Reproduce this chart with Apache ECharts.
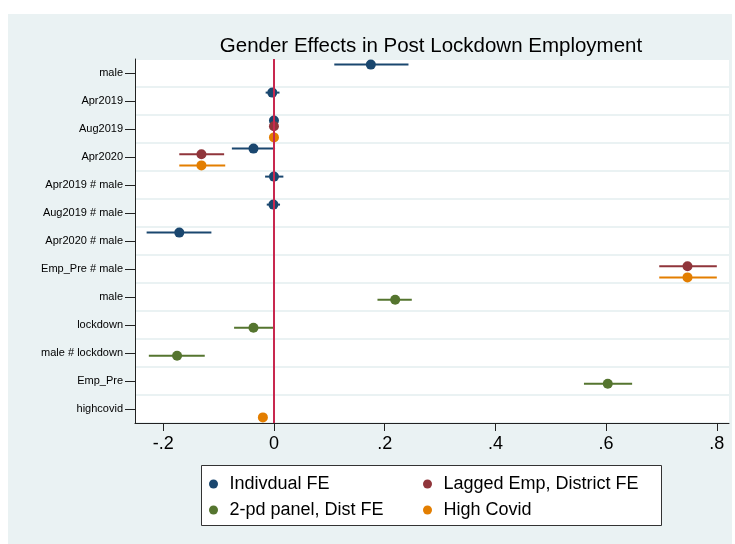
<!DOCTYPE html>
<html><head><meta charset="utf-8">
<script src="https://cdn.jsdelivr.net/npm/echarts@6/dist/echarts.min.js"></script>
<style>html,body{margin:0;padding:0;background:#fff}#c{width:735px;height:544px}</style>
</head><body><div id="c"></div>
<script>
// Categories (top to bottom)
const categories = ['male','Apr2019','Aug2019','Apr2020','Apr2019 # male','Aug2019 # male','Apr2020 # male','Emp_Pre # male','male','lockdown','male # lockdown','Emp_Pre','highcovid'];
const seriesNames = ['Indivdual FE','Lagged Emp, District FE','2-pd panel, Dist FE','High Covid'];
// rows: [categoryIndex, estimate, ciLow, ciHigh]
const indivFE   = [[0,0.175,0.109,0.243],[1,-0.003,-0.015,0.010],[2,0.000,-0.003,0.003],[3,-0.037,-0.076,0.002],[4,0.000,-0.016,0.017],[5,-0.001,-0.013,0.011],[6,-0.171,-0.230,-0.113]];
const laggedEmp = [[2,0.000,-0.002,0.002],[3,-0.131,-0.171,-0.090],[7,0.747,0.696,0.800]];
const panel2pd  = [[8,0.219,0.187,0.249],[9,-0.037,-0.072,-0.001],[10,-0.175,-0.226,-0.125],[11,0.603,0.560,0.647]];
const highCovid = [[2,0.000,-0.002,0.002],[3,-0.131,-0.171,-0.088],[7,0.747,0.696,0.800],[12,-0.020,-0.022,-0.018]];
const xTickValues = [-0.2,0,0.2,0.4,0.6,0.8];
const xTickLabels = ['-.2','0','.2','.4','.6','.8'];

const FONT = "'Liberation Sans', Arial, Helvetica, sans-serif";
const colors = ['#1a476f','#90353b','#55752f','#e37e00'];
const offsets = [-0.3,-0.1,0.1,0.3];
const models = [indivFE, laggedEmp, panel2pd, highCovid];

const series = [];
models.forEach((rows, k) => {
  const ci = rows.map(r => [r[2], r[3], r[0] + offsets[k]]);
  const pts = rows.map(r => [r[1], r[0] + offsets[k]]);
  const ciSeries = {
    type: 'custom', name: seriesNames[k] + ' CI', xAxisIndex: 0, yAxisIndex: 1,
    data: ci, encode: {x: [0, 1], y: 2}, z: 2, silent: true,
    renderItem: (params, api) => {
      const a = api.coord([api.value(0), api.value(2)]);
      const b = api.coord([api.value(1), api.value(2)]);
      return {type: 'line', shape: {x1: a[0], y1: a[1], x2: b[0], y2: b[1]},
        style: {stroke: colors[k], lineWidth: 2}};
    }
  };
  if (k === 0) {
    ciSeries.markLine = {
      silent: true, symbol: ['none','none'], label: {show: false},
      lineStyle: {color: '#c8284f', width: 2, type: 'solid'},
      data: [{xAxis: 0}], animation: false
    };
  }
  series.push(ciSeries);
  series.push({
    type: 'scatter', name: seriesNames[k], xAxisIndex: 0, yAxisIndex: 1,
    data: pts, symbol: 'circle', symbolSize: 10, z: 3,
    itemStyle: {color: colors[k], opacity: 1}, emphasis: {disabled: true}, silent: true
  });
});

const legendCommon = {
  orient: 'vertical', top: 474, itemWidth: 22, itemHeight: 9, itemGap: 6, padding: 0,
  icon: 'circle', selectedMode: false,
  textStyle: {fontSize: 18, lineHeight: 20, color: '#000', fontFamily: FONT}
};

const chart = echarts.init(document.getElementById('c'));
chart.setOption({
  animation: false,
  backgroundColor: '#fff',
  graphic: [
    {type: 'rect', z: -10, shape: {x: 8, y: 14, width: 724, height: 530}, style: {fill: '#eaf2f3'}, silent: true},
    {type: 'rect', z: 1, shape: {x: 201.5, y: 465.5, width: 460, height: 60}, style: {fill: '#fff', stroke: '#333', lineWidth: 1}, silent: true}
  ],
  title: {
    text: 'Gender Effects in Post Lockdown Employment', left: 426, top: 31, textAlign: 'center',
    textStyle: {fontSize: 20.5, fontWeight: 'normal', color: '#000', fontFamily: FONT}
  },
  legend: [
    Object.assign({}, legendCommon, {left: 209, data: [seriesNames[0], seriesNames[2]]}),
    Object.assign({}, legendCommon, {left: 423, data: [seriesNames[1], seriesNames[3]]})
  ],
  grid: {left: 135, right: 6, top: 59, bottom: 121, show: true, backgroundColor: '#fff', borderWidth: 0, containLabel: false},
  xAxis: [{
    type: 'value', min: -0.251, max: 0.822,
    axisLine: {show: true, onZero: false, lineStyle: {color: '#222', width: 1}},
    axisTick: {show: true, length: 8, lineStyle: {color: '#222'}, customValues: xTickValues},
    axisLabel: {show: true, margin: 12, fontSize: 18, color: '#000', fontFamily: FONT,
      customValues: xTickValues,
      formatter: v => { const i = xTickValues.findIndex(t => Math.abs(t - v) < 1e-9); return i >= 0 ? xTickLabels[i] : ''; }},
    splitLine: {show: false}
  }],
  yAxis: [{
    type: 'category', data: categories, inverse: true, boundaryGap: true, position: 'left',
    axisLine: {show: true, onZero: false, lineStyle: {color: '#222', width: 1}},
    axisTick: {show: true, alignWithLabel: true, length: 10, lineStyle: {color: '#222'}},
    axisLabel: {margin: 12, fontSize: 11, color: '#000', fontFamily: FONT, interval: 0},
    splitLine: {show: true, interval: 0, lineStyle: {color: '#eaf2f3', width: 2}}
  }, {
    type: 'value', min: -0.5, max: 12.5, inverse: true, show: false
  }],
  series: series
});
</script></body></html>
